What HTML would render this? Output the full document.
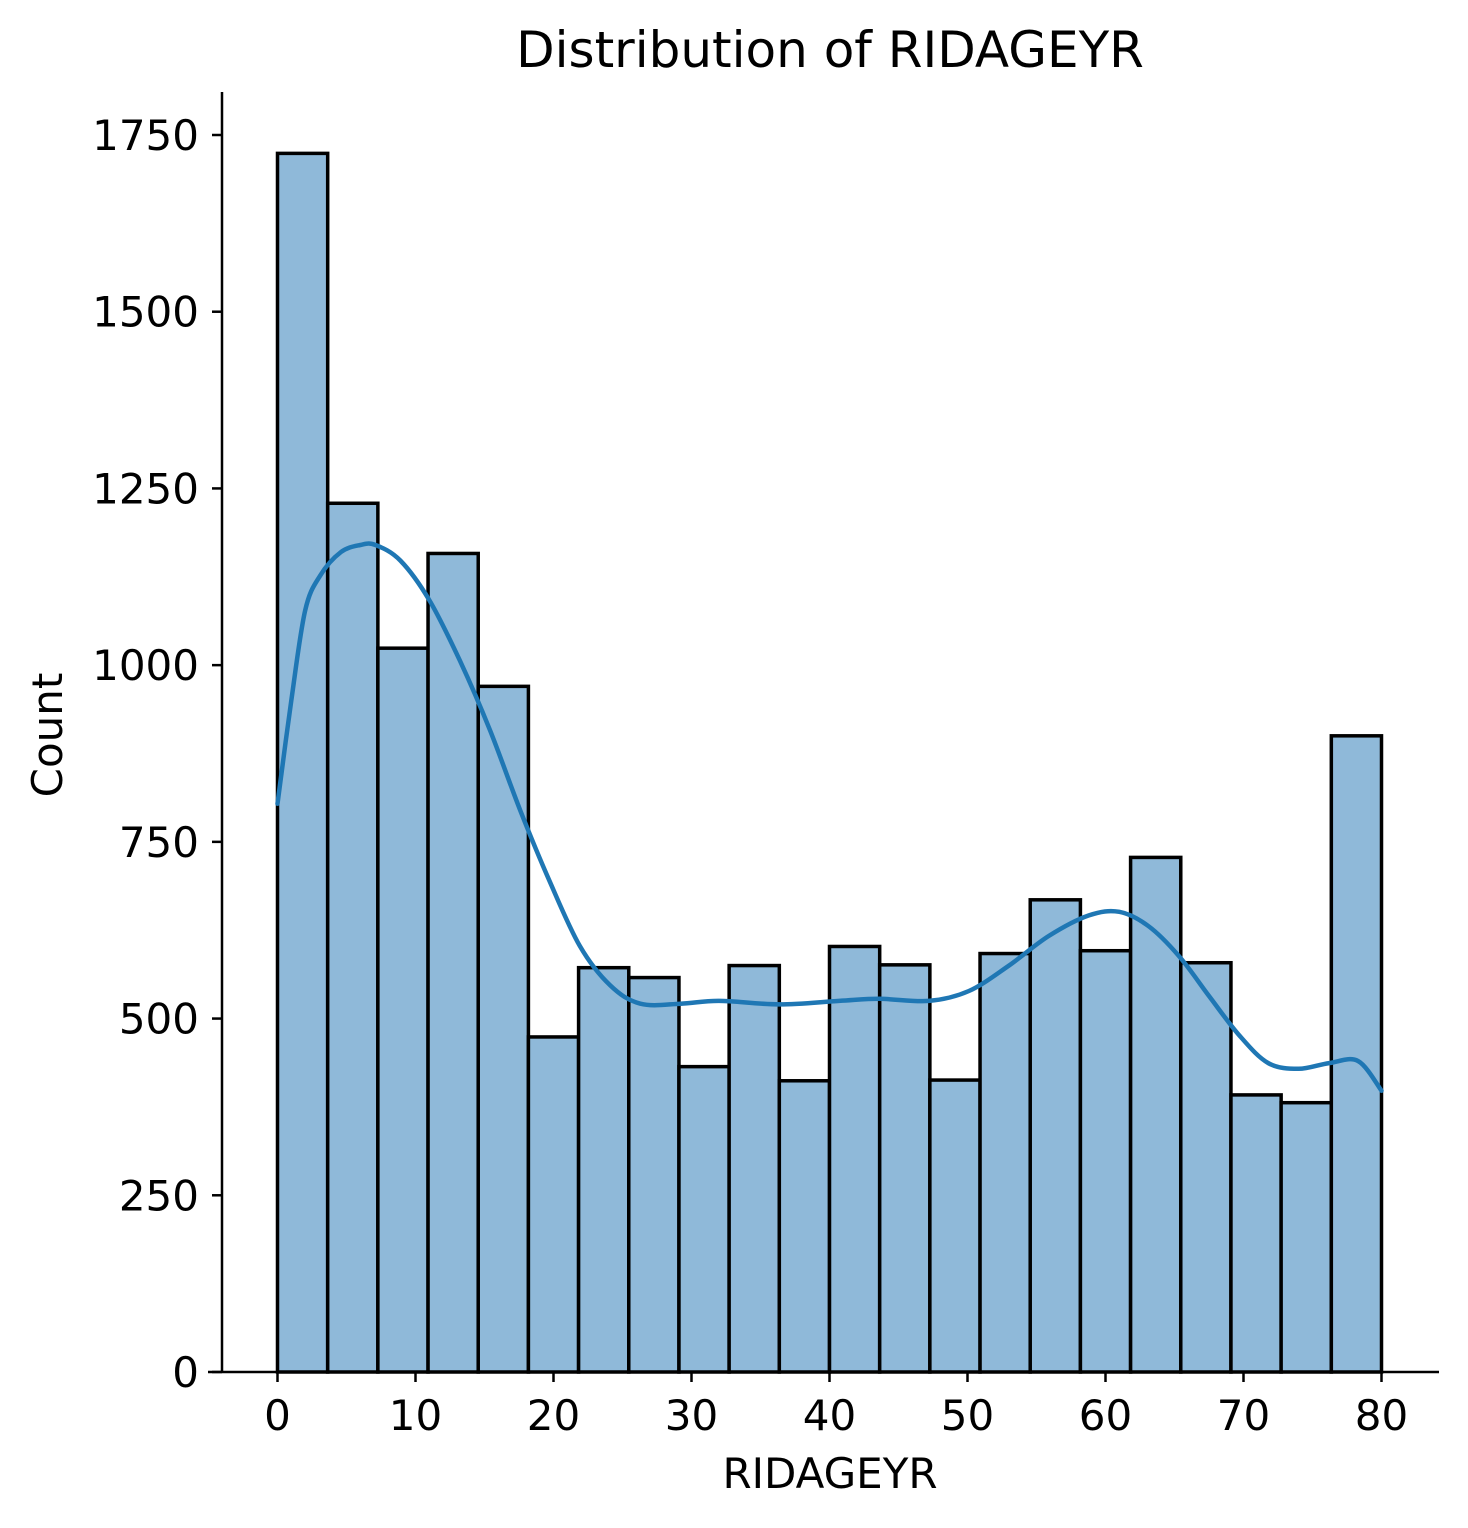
<!DOCTYPE html>
<html><head><meta charset="utf-8"><style>
html,body{margin:0;padding:0;background:#fff;}
svg{display:block;font-family:"DejaVu Sans","Liberation Sans",sans-serif;}
</style></head><body>
<svg id="chart" width="1468" height="1528" viewBox="0 0 1468 1528">
<text x="830" y="67" font-size="50" text-anchor="middle">Distribution of RIDAGEYR</text>
<g id="bars"></g>
<path id="kde" fill="none" stroke="#1f77b4" stroke-width="4.5" stroke-linejoin="round" stroke-linecap="round"/>
<g id="axes"></g>
<text x="830" y="1488" font-size="42" text-anchor="middle">RIDAGEYR</text>
<text x="62" y="735" font-size="42" text-anchor="middle" transform="rotate(-90 62 735)">Count</text>
</svg>
<script>
const counts = [1724,1229,1024,1158,970,474,572,558,432,575,412,602,576,413,592,668,596,728,579,392,381,900];
const kdeX = [0,1,2,3.1,4.6,6,7.1,8.9,11,13.2,15.4,17.6,19.7,21.9,24.1,26.3,29.2,32,36.4,40.7,43.6,47.2,50.1,53,55.9,58.8,61,63.1,65.3,67.5,69.7,71.8,74,76.2,78.3,80];
const kdeY = [804,950,1077,1127,1160,1170,1170,1148,1092,1007,908,794,695,603,547,521,521,525,520,525,528,525,539,575,617,646,651,631,589,532,476,437,429,437,440,398];
const xTicks = [0,10,20,30,40,50,60,70,80];
const yTicks = [0,250,500,750,1000,1250,1500,1750];
const xMin = 0, xMax = 80;

const NS = "http://www.w3.org/2000/svg";
const sx = v => 277.5 + (v - xMin) * (1381.5 - 277.5) / (xMax - xMin);
const sy = v => 1372 - v * (1372 - 135) / 1750;
function mk(tag, attrs, parent){const e=document.createElementNS(NS,tag);for(const k in attrs)e.setAttribute(k,attrs[k]);parent.appendChild(e);return e;}

const bars = document.getElementById('bars');
const bw = (xMax - xMin) / counts.length;
counts.forEach((c,i)=>{
  const x0 = sx(xMin + i*bw), x1 = sx(xMin + (i+1)*bw);
  const r = mk('rect',{x:x0,y:sy(c),width:x1-x0,height:sy(0)-sy(c),fill:'#8fb9d9',stroke:'#000','stroke-width':3.5},bars);
  
  
});

// smooth Catmull-Rom path
const pts = kdeX.map((x,i)=>[sx(x), sy(kdeY[i])]);
let d = 'M'+pts[0][0].toFixed(1)+' '+pts[0][1].toFixed(1);
for(let i=0;i<pts.length-1;i++){
  const p0=pts[Math.max(0,i-1)], p1=pts[i], p2=pts[i+1], p3=pts[Math.min(pts.length-1,i+2)];
  const c1=[p1[0]+(p2[0]-p0[0])/6, p1[1]+(p2[1]-p0[1])/6];
  const c2=[p2[0]-(p3[0]-p1[0])/6, p2[1]-(p3[1]-p1[1])/6];
  d += ' C'+c1[0].toFixed(1)+' '+c1[1].toFixed(1)+' '+c2[0].toFixed(1)+' '+c2[1].toFixed(1)+' '+p2[0].toFixed(1)+' '+p2[1].toFixed(1);
}
document.getElementById('kde').setAttribute('d', d);

const axes = document.getElementById('axes');
mk('line',{x1:222,y1:92,x2:222,y2:1372,stroke:'#000','stroke-width':2.5},axes);
mk('line',{x1:208,y1:1372,x2:1439,y2:1372,stroke:'#000','stroke-width':2.5},axes);
xTicks.forEach(t=>{
  mk('line',{x1:sx(t),y1:1372,x2:sx(t),y2:1382,stroke:'#000','stroke-width':2.5},axes);
  const tx = mk('text',{x:sx(t),y:1430,'font-size':42,'text-anchor':'middle'},axes);
  tx.textContent = t;
  
  
});
yTicks.forEach(t=>{
  mk('line',{x1:212,y1:sy(t),x2:222,y2:sy(t),stroke:'#000','stroke-width':2.5},axes);
  const tx = mk('text',{x:199,y:sy(t)+15,'font-size':42,'text-anchor':'end'},axes);
  tx.textContent = t;
  
  
});
</script>
</body></html>
